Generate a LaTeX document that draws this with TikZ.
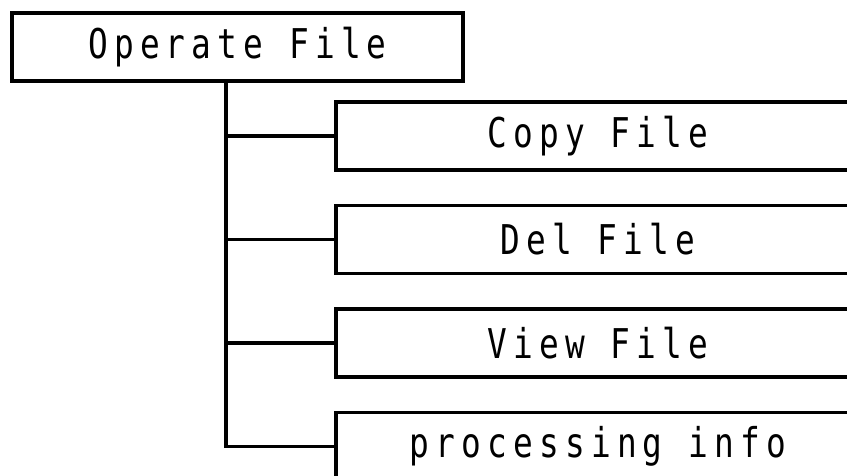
\documentclass[tikz,border=0pt]{standalone}
\usepackage{fontspec}
\newfontfamily\boxfont[LetterSpace=15,FakeStretch=0.8]{DejaVu Sans Mono}
\begin{document}
\begin{tikzpicture}[x=1pt,y=-1pt,
  box/.style={draw=black,line width=3.3pt,fill=white,inner sep=0pt,
    minimum height=68pt,font=\boxfont\fontsize{41pt}{44pt}\selectfont},
  topbox/.style={box,minimum width=451pt},
  subbox/.style={box,minimum width=524pt},
  conn/.style={draw=black,line width=3.3pt}]
\useasboundingbox (0,0) rectangle (847,475);
\clip (0,0) rectangle (847,475);
\fill[white] (0,0) rectangle (847,475);
\node[topbox] (top) at (237.5,47) {Operate File};
\node[subbox] (copy) at (598,136) {Copy File};
\node[subbox] (del) at (598,239.5) {Del File};
\node[subbox] (view) at (598,343) {View File};
\node[subbox] (proc) at (598,446.5) {processing info};
\coordinate (tx) at (226,0);
\draw[conn] (top.south -| tx) |- (proc.west);
\draw[conn] (tx |- copy.west) -- (copy.west);
\draw[conn] (tx |- del.west) -- (del.west);
\draw[conn] (tx |- view.west) -- (view.west);
\end{tikzpicture}
\end{document}
